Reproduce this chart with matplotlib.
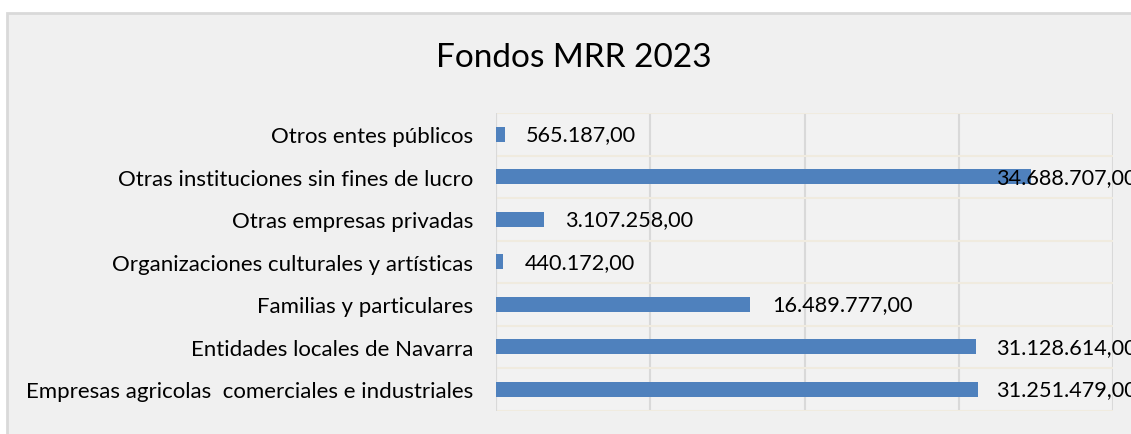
import numpy as np
import matplotlib.pyplot as plt
from matplotlib.patches import Rectangle

categorias = ['Empresas agricolas  comerciales e industriales',
              'Entidades locales de Navarra',
              'Familias y particulares',
              'Organizaciones culturales y artísticas',
              'Otras empresas privadas',
              'Otras instituciones sin fines de lucro',
              'Otros entes públicos']
importes = [31251479.00, 31128614.00, 16489777.00, 440172.00,
            3107258.00, 34688707.00, 565187.00]
etiquetas = ['31.251.479,00', '31.128.614,00', '16.489.777,00', '440.172,00',
             '3.107.258,00', '34.688.707,00', '565.187,00']

plt.rcParams['font.family'] = ['Lato', 'DejaVu Sans']

fig = plt.figure(figsize=(11.31, 4.35), dpi=100)
fig.patch.set_facecolor('white')
fig.patches.append(Rectangle((7 / 1131, -0.02), 1.05, 1 - 14 / 435 + 0.02,
                             transform=fig.transFigure, facecolor='#f0f0f0',
                             edgecolor='#d9d9d9', linewidth=2, zorder=-5))

ax = fig.add_axes([496 / 1131, 1 - 411.5 / 435, (1113 - 496) / 1131, (411.5 - 114) / 435])
ax.set_zorder(2)
ax.set_facecolor('#f2f2f2')

y = np.arange(len(categorias))
ax.barh(y, importes, height=0.36, color='#4f81bd', zorder=3)

for yi, v, t in zip(y, importes, etiquetas):
    xt = min(v + 1.4e6, 32.4e6)
    ax.text(xt, yi, t, va='center', ha='left', fontsize=15.6, color='black',
            zorder=4, clip_on=False)

ax.set_xlim(0, 40e6)
ax.set_ylim(-0.5, len(categorias) - 0.5)
ax.set_xticks(np.arange(0, 40e6 + 1, 10e6))
ax.set_xticklabels([])
ax.set_yticks(y)
ax.set_yticklabels(categorias, fontsize=16)
ax.set_yticks(np.arange(-0.5, len(categorias), 1), minor=True)
ax.tick_params(axis='both', which='both', length=0)
ax.tick_params(axis='y', pad=16.5)
ax.grid(axis='x', which='major', color='#d9d9d9', linewidth=1.5, zorder=1)
ax.grid(axis='y', which='minor', color='#f0ebdf', linewidth=1.5, zorder=1)
for s in ax.spines.values():
    s.set_visible(False)
ax.axvline(0, color='#d9d9d9', linewidth=1.5, zorder=2)

fig.text(574 / 1131, 1 - 58 / 435, 'Fondos MRR 2023', ha='center', va='center',
         fontsize=24, color='black')

fig.savefig('out.png', dpi=100)
